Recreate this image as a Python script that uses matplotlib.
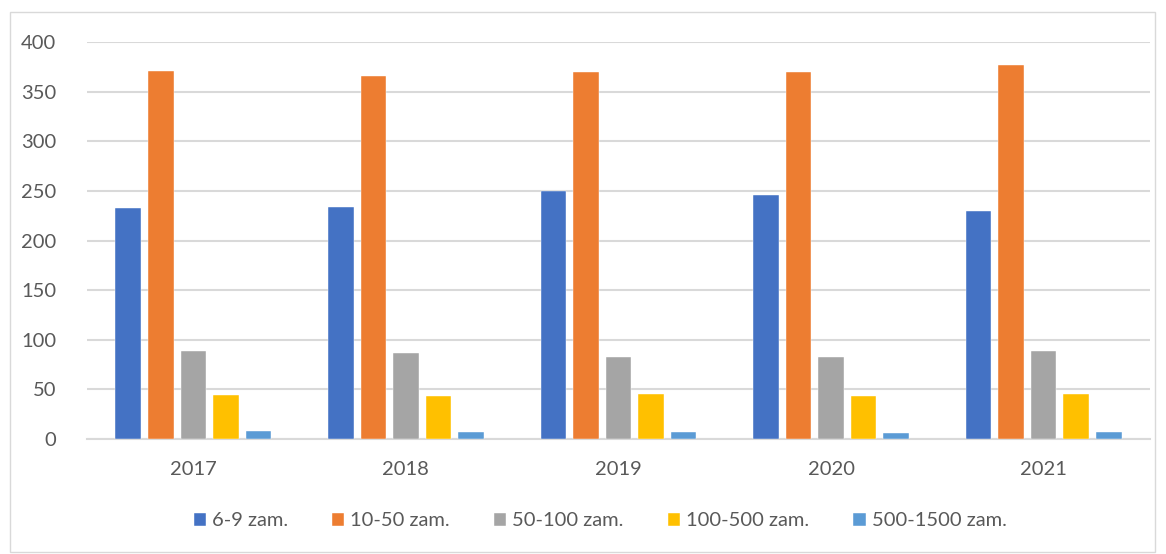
import matplotlib.pyplot as plt
import numpy as np

years = ['2017', '2018', '2019', '2020', '2021']
labels = ['6-9 zam.', '10-50 zam.', '50-100 zam.', '100-500 zam.', '500-1500 zam.']
v_6_9 = [233, 234, 250, 246, 230]
v_10_50 = [371, 366, 370, 370, 377]
v_50_100 = [89, 87, 83, 83, 89]
v_100_500 = [44, 43, 45, 43, 45]
v_500_1500 = [8, 7, 7, 6, 7]
series = [v_6_9, v_10_50, v_50_100, v_100_500, v_500_1500]
colors = ['#4472c4', '#ed7d31', '#a5a5a5', '#ffc000', '#5b9bd5']

plt.rcParams['font.family'] = ['Lato', 'DejaVu Sans']

fig = plt.figure(figsize=(11.66, 5.54), dpi=100)
ax = fig.add_axes([87/1166, 1 - 439/554, (1150-87)/1166, (439-42)/554])

# outer chart border
fig.patches.append(plt.Rectangle((10/1166, 2/554), 1145/1166, 540/554, transform=fig.transFigure,
                                 fill=False, edgecolor='#d9d9d9', linewidth=1))

x = np.arange(len(years))
slot = 0.153
w = 0.12
for i, vals in enumerate(series):
    ax.bar(x + (i - 2) * slot, vals, w, color=colors[i], label=labels[i],
           edgecolor='white', linewidth=0.3, zorder=3)

ax.set_xlim(-0.5, 4.5)
ax.set_ylim(0, 400)
ax.set_yticks(range(0, 401, 50))
ax.set_xticks(x)
ax.set_xticklabels(years)
ax.yaxis.grid(True, color='#d9d9d9', linewidth=1.5, zorder=0)
for s in ['top', 'right', 'left']:
    ax.spines[s].set_visible(False)
ax.spines['bottom'].set_color('#d9d9d9')
ax.spines['bottom'].set_linewidth(1.5)
ax.tick_params(axis='both', length=0, labelsize=14.5, colors='#595959')
ax.tick_params(axis='y', pad=22)
ax.tick_params(axis='x', pad=16)

fig.legend(loc='center', bbox_to_anchor=(600/1166, 1 - 521/554), ncol=5, frameon=False,
           fontsize=14.5, labelcolor='#595959', handlelength=0.6, handleheight=0.6,
           handletextpad=0.3, columnspacing=2.2)

fig.savefig('out.png', dpi=100)
